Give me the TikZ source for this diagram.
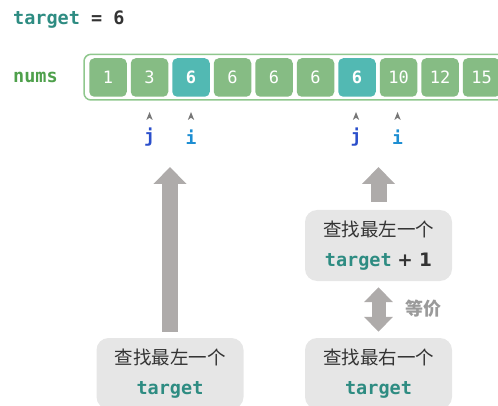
\documentclass[tikz,border=0pt]{standalone}
\usepackage{fontspec}
\setmonofont{DejaVu Sans Mono}
\setsansfont{DejaVu Sans}
\newfontfamily\cjk{Noto Sans CJK SC}
\usetikzlibrary{arrows.meta,calc}
\definecolor{cellg}{HTML}{86BC84}
\definecolor{cellt}{HTML}{52B9B3}
\definecolor{outerg}{HTML}{8FC78D}
\definecolor{tealtxt}{HTML}{2E8C82}
\definecolor{numsg}{HTML}{4EA04B}
\definecolor{darktxt}{HTML}{333333}
\definecolor{arrg}{HTML}{AEABAA}
\definecolor{boxg}{HTML}{E6E6E6}
\definecolor{jblue}{HTML}{2B4FCB}
\definecolor{iblue}{HTML}{1D8ED2}
\definecolor{eqg}{HTML}{9A9A9A}
\definecolor{tipg}{HTML}{777777}
\begin{document}
\begin{tikzpicture}[x=1pt,y=-1pt,
  cell/.style={rounded corners=5pt, minimum width=37.5pt, minimum height=38.5pt, fill=cellg, text=white, font=\ttfamily\fontsize{17}{17}\selectfont, inner sep=0pt},
  hcell/.style={cell, fill=cellt, font=\ttfamily\bfseries\fontsize{17}{17}\selectfont},
  infobox/.style={rounded corners=12pt, fill=boxg, minimum width=147pt, minimum height=71pt, align=center, text=darktxt, inner sep=0pt, font=\cjk\fontsize{18.5}{30}\selectfont},
  bigarrow/.style={draw=arrg, line width=16pt, -{Triangle[width=32pt,length=17pt]}},
  dblarrow/.style={draw=arrg, line width=14pt, {Triangle[width=28pt,length=15pt]}-{Triangle[width=28pt,length=15pt]}},
  idxj/.style={text=jblue, font=\ttfamily\bfseries\fontsize{18}{18}\selectfont, inner sep=0pt},
  idxi/.style={text=iblue, font=\ttfamily\bfseries\fontsize{18}{18}\selectfont, inner sep=0pt}
]
\useasboundingbox (0,0) rectangle (498,406);
\clip (0,0) rectangle (498,406);
% title
\node[anchor=base west, inner sep=0pt, font=\ttfamily\bfseries\fontsize{18.5}{18.5}\selectfont] (title) at (13,25) {\textcolor{tealtxt}{target} \textcolor{darktxt}{= 6}};
\node[anchor=west, inner sep=0pt, text=numsg, font=\ttfamily\bfseries\fontsize{18.5}{18.5}\selectfont] (nums) at (13,77) {nums};
% outer frame
\draw[outerg, line width=1.5pt, fill=white, rounded corners=7pt] (84,54.3) rectangle (540,100);
% cells
\foreach \v [count=\k from 0] in {1,3,6,6,6,6,6,10,12,15} {
  \pgfmathsetmacro{\cx}{108+41.5*\k}
  \ifnum\k=2
    \node[hcell] (c\k) at (\cx,77.5) {\v};
  \else\ifnum\k=6
    \node[hcell] (c\k) at (\cx,77.5) {\v};
  \else
    \node[cell] (c\k) at (\cx,77.5) {\v};
  \fi\fi
}
% index markers
\foreach \x in {149.5, 191, 356, 397.5} {
  \fill[tipg] (\x,112) -- (\x+3.2,120) -- (\x,117.8) -- (\x-3.2,120) -- cycle;
}
\node[idxj] (j1) at (149.5,137) {j};
\node[idxi] (i1) at (191,137) {i};
\node[idxj] (j2) at (356,137) {j};
\node[idxi] (i2) at (397.5,137) {i};
% boxes
\node[infobox] (bl) at (170,373.5) {查找最左一个\\{\ttfamily\bfseries\textcolor{tealtxt}{target}}};
\node[infobox] (tr) at (378.5,245.5) {查找最左一个\\{\ttfamily\bfseries\textcolor{tealtxt}{target}}\hspace{0.3em}{\sffamily\bfseries\textcolor{darktxt}{+ 1}}};
\node[infobox] (br) at (378.5,373.5) {查找最右一个\\{\ttfamily\bfseries\textcolor{tealtxt}{target}}};
% arrows
\coordinate (lt) at ($(j1)!0.5!(i1)+(0,30)$);
\coordinate (rt) at ($(j2)!0.5!(i2)+(0,30)$);
\draw[bigarrow] ($(bl.north)+(0,-6)$) -- (bl.north |- lt);
\draw[bigarrow] ($(tr.north)+(0,-8)$) -- (tr.north |- rt);
\draw[dblarrow] ($(tr.south)+(0,6)$) -- ($(br.north)+(0,-6)$);
\node[anchor=west, inner sep=0pt, text=eqg, font=\cjk\bfseries\fontsize{18}{18}\selectfont] (eq) at (405,309) {等价};
\end{tikzpicture}
\end{document}
